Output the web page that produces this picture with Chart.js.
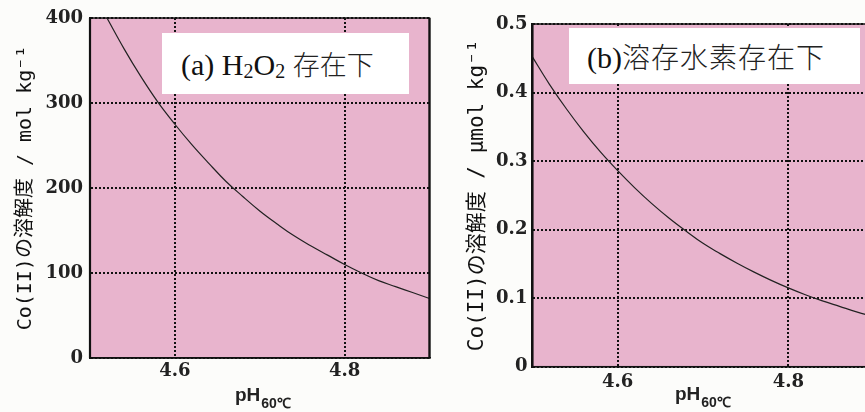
<!DOCTYPE html>
<html><head><meta charset="utf-8">
<script src="https://cdn.jsdelivr.net/npm/chart.js@4.4.0/dist/chart.umd.min.js"></script>
<style>
html,body{margin:0;padding:0;background:#fcfcfa;width:865px;height:412px;overflow:hidden;position:relative}
#pa{position:absolute;left:0;top:0;width:440px;height:412px}
#pb{position:absolute;left:435px;top:0;width:430px;height:412px;overflow:hidden}
.lbl{position:absolute;background:#fff;color:#111;white-space:nowrap;font-family:'Liberation Serif','Noto Sans CJK JP',serif;box-sizing:border-box}
.lbl .s{font-size:20px;position:relative;top:3px}
.lbl .j{font-family:'Noto Sans CJK JP',sans-serif;font-weight:300;color:#222}
.xt{position:absolute;font-family:'Liberation Sans',Arial,sans-serif;font-weight:bold;font-size:19px;line-height:19px;color:#222;white-space:nowrap}
.xt span{font-size:14px;position:relative;top:7px;margin-left:1px}
</style></head>
<body>
<div id="pa"><canvas id="ca" width="440" height="412" style="width:440px;height:412px"></canvas></div>
<div id="pb"><canvas id="cb" width="450" height="412" style="width:450px;height:412px"></canvas></div>
<div class="lbl" style="left:162px;top:33px;width:247px;height:61px;line-height:61px;font-size:30px;padding-left:19px">(a) H<span class="s">2</span>O<span class="s">2</span> <span class="j" style="font-size:27px">存在下</span></div>
<div class="lbl" style="left:569px;top:28px;width:291px;height:56px;line-height:56px;font-size:30px;padding-left:18px">(b)<span class="j" style="font-size:28px;letter-spacing:1px">溶存水素存在下</span></div>
<div class="xt" style="left:235px;top:385px">pH<span>60℃</span></div>
<div class="xt" style="left:675px;top:384px">pH<span>60℃</span></div>
<script>
const phA = [4.50,4.52,4.54,4.56,4.58,4.60,4.62,4.64,4.66,4.68,4.70,4.72,4.74,4.76,4.78,4.80,4.82,4.84,4.86,4.88,4.90];
const solA = [436,400,364,331,301,275,251,229,208,190,173,158,144,132,121,110,100,91,84,77,70];
const phB = [4.50,4.52,4.54,4.56,4.58,4.60,4.62,4.64,4.66,4.68,4.70,4.72,4.74,4.76,4.78,4.80,4.82,4.84,4.86,4.88,4.90];
const solB = [0.452,0.412,0.376,0.343,0.313,0.286,0.261,0.238,0.217,0.198,0.180,0.165,0.151,0.138,0.126,0.115,0.105,0.096,0.088,0.080,0.073];
const xTicks = [4.6, 4.8];
const yTicksA = [0,100,200,300,400];
const yTicksB = [0,0.1,0.2,0.3,0.4,0.5];
const titleA = 'Co(II)の溶解度 / mol kg⁻¹';
const titleB = 'Co(II)の溶解度 / μmol kg⁻¹';

const pinkFrame = {
  id:'pinkFrame',
  beforeDraw(c){const {ctx,chartArea:a}=c;ctx.save();ctx.fillStyle='#e8b4cd';ctx.fillRect(a.left,a.top,a.width,a.height);ctx.restore();},
  afterDraw(c){const {ctx,chartArea:a}=c;ctx.save();ctx.strokeStyle='#111';ctx.lineWidth=1.5;ctx.strokeRect(a.left,a.top,a.width,a.height);
    ctx.lineWidth=2.2;ctx.beginPath();ctx.moveTo(a.left,a.top);ctx.lineTo(a.left,a.bottom);ctx.moveTo(a.right,a.top);ctx.lineTo(a.right,a.bottom);ctx.stroke();ctx.restore();}
};

function makeChart(id, xs, ys, yTicks, yMax, title, cfg){
  const tickFont = {family:"'DejaVu Serif','Liberation Serif',serif", size:18, weight:'bold'};
  return new Chart(document.getElementById(id), {
    type:'line',
    data:{datasets:[{data:xs.map((x,i)=>({x:x,y:ys[i]})),borderColor:'#222',borderWidth:1.2,pointRadius:0,tension:0.4,fill:false}]},
    options:{
      responsive:false, animation:false,
      layout:{padding:{left:0,top:cfg.top,right:cfg.right,bottom:0}},
      plugins:{legend:{display:false},tooltip:{enabled:false}},
      scales:{
        x:{type:'linear',min:4.5,max:4.9,
          afterBuildTicks:s=>{s.ticks=xTicks.map(v=>({value:v}));},
          afterFit:s=>{s.height=cfg.xh;},
          ticks:{font:tickFont,color:'#222',padding:cfg.xpad,autoSkip:false,maxRotation:0,callback:v=>Number(v).toFixed(1)},
          grid:{color:'#111',lineWidth:2,drawTicks:false},
          border:{display:true,color:'#111',width:1.5,dash:[2,2]}
        },
        y:{type:'linear',min:0,max:yMax,
          afterBuildTicks:s=>{s.ticks=yTicks.map(v=>({value:v}));},
          afterFit:s=>{s.width=cfg.yw;},
          ticks:{font:tickFont,color:'#222',padding:cfg.ypad,callback:v=>v===0?'0':(yMax<1?Number(v).toFixed(1):String(v))},
          grid:{color:'#111',lineWidth:2,drawTicks:false},
          border:{display:true,color:'#111',width:2,dash:[2,2]},
          title:{display:true,text:title,color:'#111',font:{family:"'DejaVu Sans Mono','Noto Sans CJK JP',monospace",size:cfg.tsize},padding:{top:cfg.tpad,bottom:0}}
        }
      }
    },
    plugins:[pinkFrame]
  });
}
makeChart('ca', phA, solA, yTicksA, 400, titleA, {top:18,right:10.5,xh:54,yw:90,xpad:3,ypad:7,tsize:20,tpad:14});
makeChart('cb', phB, solB, yTicksB, 0.5, titleB, {top:24,right:11.4,xh:45.3,yw:97.4,xpad:5,ypad:5,tsize:21,tpad:30});
</script>
</body></html>
